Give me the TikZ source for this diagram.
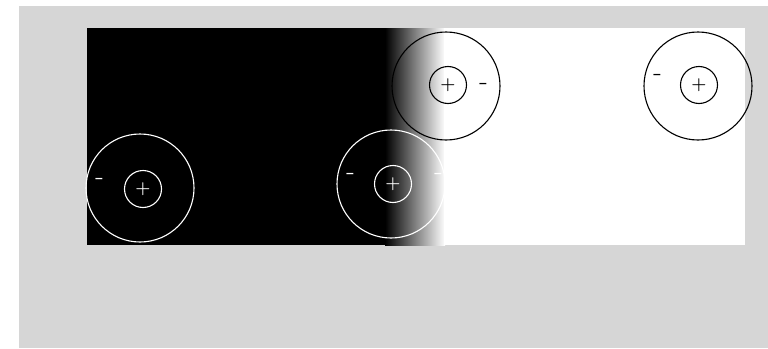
\documentclass[tikz,border=0pt]{standalone}
\usepackage{amsmath, amssymb}
\usepackage{fontspec}
\usepackage{tikz}
\usepackage{xcolor}
\usetikzlibrary{positioning}
\newfontfamily\signfont{DejaVu Sans}
\definecolor{panelgray}{RGB}{214,214,214}

\begin{document}
\begin{tikzpicture}[x=1pt, y=-1pt,
    field/.style={circle, draw, line width=1.1pt, minimum size=108pt, inner sep=0pt},
    centre/.style={circle, draw, line width=1.1pt, minimum size=37pt, inner sep=0pt, font=\LARGE\boldmath},
    sign/.style={font=\signfont\bfseries\fontsize{11}{11}\selectfont, inner sep=0pt}]
    % Background panel
    \useasboundingbox (0,0) rectangle (768,348);
    \fill[panelgray] (19,6) rectangle (768,348);
    
    % Stimulus: dark field, blurred edge, light field
    \fill[black] (87,28) rectangle (386,245);
    \shade[left color=black, right color=white] (385,28) rectangle (445,245);
    \fill[white] (444,28) rectangle (745,245);
    
    % Receptive fields on the dark side (white outlines)
    \node[field, draw=white] (blOuter) at (140,188) {};
    \node[centre, draw=white, text=white] (blCentre) at (143,189) {$+$};
    \node[sign, text=white] (blMinus) at (99,180) {−};
    
    \node[field, draw=white] (bmOuter) at (391,184) {};
    \node[centre, draw=white, text=white] (bmCentre) at (393,184) {$+$};
    \node[sign, text=white] (bmMinusL) at (350,175) {−};
    \node[sign, text=white] (bmMinusR) at (438,175) {−};
    
    % Receptive fields on the light side (black outlines)
    \node[field, draw=black] (tmOuter) at (446,86) {};
    \node[centre, draw=black] (tmCentre) at (448,85) {$+$};
    \node[sign] (tmMinus) at (483,85) {−};
    
    \node[field, draw=black] (trOuter) at (698,86) {};
    \node[centre, draw=black] (trCentre) at (699,85) {$+$};
    \node[sign] (trMinus) at (657,76) {−};
\end{tikzpicture}
\end{document}
